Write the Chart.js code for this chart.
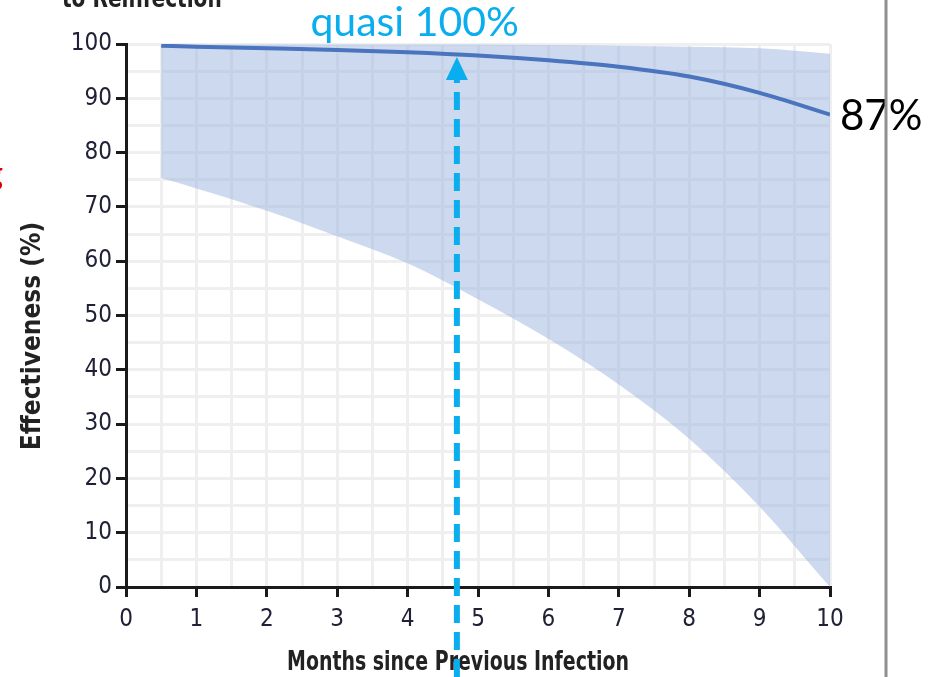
<!DOCTYPE html>
<html>
<head>
<meta charset="utf-8">
<script src="https://cdn.jsdelivr.net/npm/chart.js@4.4.0/dist/chart.umd.min.js"></script>
<style>
  html, body { margin: 0; padding: 0; background: #ffffff; }
  #wrap { width: 935px; height: 677px; }
</style>
</head>
<body>
<div id="wrap"><canvas id="effChart" width="935" height="677"></canvas></div>
<script>
// months since previous infection
var months = [0.5, 1, 2, 3, 4, 5, 6, 7, 8, 9, 10];
// estimated effectiveness (%) and its confidence band
var effect = [99.7, 99.5, 99.2, 98.9, 98.5, 97.9, 97.0, 95.8, 94.0, 91.0, 87.0];
var upper  = [99.9, 99.9, 99.9, 99.9, 99.9, 99.9, 99.8, 99.7, 99.5, 99.2, 98.2];
var lower  = [75.3, 73.4, 69.3, 64.6, 59.6, 53.0, 45.7, 37.3, 27.3, 14.8, 0];

// annotation values
var arrowMonth = 4.7;
var arrowTipValue = 97.6;
var arrowLabel = 'quasi 100%';
var endLabel = '87%';
var xTitle = 'Months since Previous Infection';
var yTitle = 'Effectiveness (%)';
var topTitle = 'to Reinfection';

var tickFont = "'DejaVu Sans Condensed', 'Liberation Sans Narrow', sans-serif";
var annoFont = "Lato, 'Open Sans', sans-serif";

function pts(ys) {
    var out = [];
    for (var i = 0; i < months.length; i++) {
        out.push({x: months[i], y: ys[i]});
    }
    return out;
}

// text squeezed horizontally, the original uses a condensed face
function narrowText(ctx, txt, x, y, sx) {
    ctx.save();
    ctx.translate(x, y);
    ctx.scale(sx, 1);
    ctx.fillText(txt, 0, 0);
    ctx.restore();
}

// draws axis titles, labels, the dashed arrow and the side rule
var extras = {
    id: 'extras',
    afterDraw: function(chart) {
        var ctx = chart.ctx;
        var xs = chart.scales.x, ys = chart.scales.y;
        var area = chart.chartArea;
        ctx.save();

        // clipped title above the chart
        ctx.fillStyle = '#222222';
        ctx.font = "bold 26px " + tickFont;
        ctx.textAlign = 'left';
        ctx.textBaseline = 'alphabetic';
        narrowText(ctx, topTitle, 62, 7, 0.86);

        // little red glyph cut by the left edge
        ctx.fillStyle = '#e00000';
        ctx.font = "bold 34px " + annoFont;
        ctx.fillText('g', -15, 185);

        // y axis title
        ctx.save();
        ctx.translate(33, 336);
        ctx.rotate(-Math.PI / 2);
        ctx.fillStyle = '#222222';
        ctx.font = "bold 26px " + tickFont;
        ctx.textAlign = 'center';
        ctx.textBaseline = 'middle';
        ctx.fillText(yTitle, 0, 0);
        ctx.restore();

        // x axis title
        ctx.fillStyle = '#222222';
        ctx.font = "bold 26px " + tickFont;
        ctx.textAlign = 'center';
        ctx.textBaseline = 'middle';
        narrowText(ctx, xTitle, 458, 663, 0.81);

        // end value label
        var lastY = ys.getPixelForValue(effect[effect.length - 1]);
        ctx.fillStyle = '#000000';
        ctx.font = "42px " + annoFont;
        ctx.textAlign = 'left';
        ctx.textBaseline = 'middle';
        ctx.fillText(endLabel, area.right + 10, lastY + 2);

        // side rule
        ctx.strokeStyle = '#8f8f8f';
        ctx.lineWidth = 3;
        ctx.beginPath();
        ctx.moveTo(area.right + 56, 0);
        ctx.lineTo(area.right + 56, chart.height);
        ctx.stroke();

        // dashed arrow
        var ax = xs.getPixelForValue(arrowMonth);
        var tip = ys.getPixelForValue(arrowTipValue);
        var base = tip + 23;
        ctx.strokeStyle = '#0aaeee';
        ctx.fillStyle = '#0aaeee';
        ctx.lineWidth = 6;
        ctx.setLineDash([18, 9]);
        ctx.beginPath();
        ctx.moveTo(ax, chart.height);
        ctx.lineTo(ax, base);
        ctx.stroke();
        ctx.setLineDash([]);
        ctx.beginPath();
        ctx.moveTo(ax, tip);
        ctx.lineTo(ax - 11, base);
        ctx.lineTo(ax + 11, base);
        ctx.closePath();
        ctx.fill();

        // arrow label
        ctx.font = "41px " + annoFont;
        ctx.textAlign = 'center';
        ctx.textBaseline = 'alphabetic';
        ctx.fillText(arrowLabel, xs.getPixelForValue(4.1), 36);

        ctx.restore();
    }
};

const ctx = document.getElementById('effChart').getContext('2d');

const chart = new Chart(ctx, {
    type: 'line',
    data: {
        datasets: [{
            label: 'Effectiveness',
            data: pts(effect),
            borderColor: '#4a74bd',
            borderWidth: 4,
            pointRadius: 0,
            cubicInterpolationMode: 'monotone',
            fill: false,
            order: 0
        }, {
            label: 'Upper',
            data: pts(upper),
            borderWidth: 0,
            borderColor: 'rgba(0,0,0,0)',
            backgroundColor: 'rgba(150,175,220,0.48)',
            pointRadius: 0,
            cubicInterpolationMode: 'monotone',
            fill: '+1',
            order: 1
        }, {
            label: 'Lower',
            data: pts(lower),
            borderWidth: 0,
            borderColor: 'rgba(0,0,0,0)',
            pointRadius: 0,
            cubicInterpolationMode: 'monotone',
            fill: false,
            order: 2
        }]
    },
    options: {
        responsive: false,
        animation: false,
        events: [],
        layout: {
            padding: {left: 0, top: 44, right: 105, bottom: 0}
        },
        plugins: {
            legend: {display: false},
            tooltip: {enabled: false}
        },
        scales: {
            x: {
                type: 'linear',
                min: 0,
                max: 10,
                afterFit: function(scale) { scale.height = 90; },
                border: {color: '#1a1a1a', width: 3},
                grid: {
                    color: function(c) { return c.tick && c.tick.value === 0 ? 'rgba(0,0,0,0)' : '#efefef'; },
                    lineWidth: 3,
                    tickLength: 10,
                    tickWidth: 3,
                    tickColor: function(c) { return c.tick && c.tick.value % 1 === 0 ? '#1a1a1a' : 'rgba(0,0,0,0)'; }
                },
                ticks: {
                    stepSize: 0.5,
                    autoSkip: false,
                    maxRotation: 0,
                    padding: 8,
                    color: '#202036',
                    font: {family: tickFont, size: 24},
                    callback: function(v) { return v % 1 === 0 ? v : ''; }
                }
            },
            y: {
                min: 0,
                max: 100,
                afterFit: function(scale) { scale.width = 126; },
                border: {color: '#1a1a1a', width: 3},
                grid: {
                    color: function(c) { return c.tick && c.tick.value === 0 ? 'rgba(0,0,0,0)' : '#efefef'; },
                    lineWidth: 3,
                    tickLength: 10,
                    tickWidth: 3,
                    tickColor: function(c) { return c.tick && c.tick.value % 10 === 0 ? '#1a1a1a' : 'rgba(0,0,0,0)'; }
                },
                ticks: {
                    stepSize: 5,
                    autoSkip: false,
                    padding: 4,
                    color: '#202036',
                    font: {family: tickFont, size: 24},
                    callback: function(v) { return v % 10 === 0 ? v : ''; }
                }
            }
        }
    },
    plugins: [extras]
});
</script>
</body>
</html>
